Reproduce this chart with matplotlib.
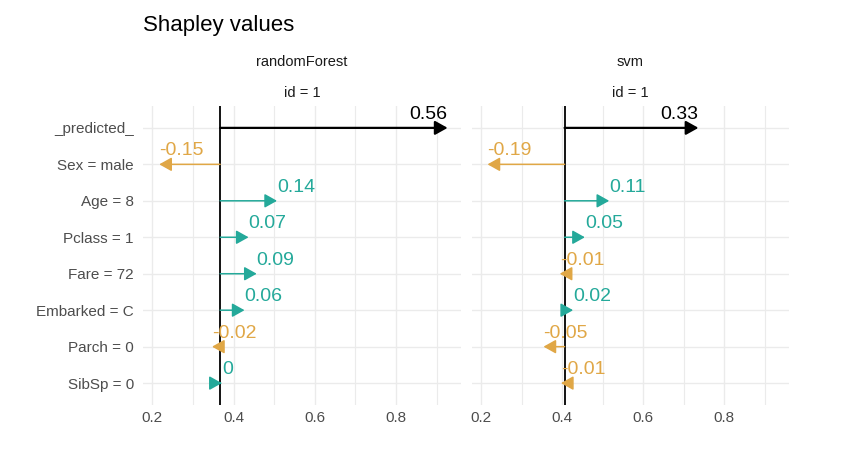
import matplotlib
matplotlib.use("Agg")
import matplotlib.pyplot as plt
from matplotlib.ticker import MultipleLocator, FixedLocator, FuncFormatter

plt.rcParams['font.family'] = ['Liberation Sans', 'DejaVu Sans']

# ---- data ----
features = ["_predicted_", "Sex = male", "Age = 8", "Pclass = 1", "Fare = 72",
            "Embarked = C", "Parch = 0", "SibSp = 0"]
models = ["randomForest", "svm"]
obs_id = 1
baselines = [0.367, 0.406]
rf_values = [0.56, -0.15, 0.14, 0.07, 0.09, 0.06, -0.02, 0.004]
svm_values = [0.33, -0.19, 0.11, 0.05, -0.012, 0.021, -0.052, -0.009]
values = [rf_values, svm_values]
x_ticks = [0.2, 0.4, 0.6, 0.8]

# ---- style ----
POS = "#24A99A"
NEG = "#E0A746"
PRED = "black"
GRID = "#EBEBEB"
TXT = "#4D4D4D"
XLIM = (0.177, 0.96)

W, H = 848, 474
fig = plt.figure(figsize=(W / 100, H / 100), dpi=100)
panel_px = [(143, 461), (471.7, 789.3)]
top_px, bot_px = 106, 405

axes = []
for k, (x0, x1) in enumerate(panel_px):
    ax = fig.add_axes([x0 / W, 1 - bot_px / H, (x1 - x0) / W, (bot_px - top_px) / H])
    axes.append(ax)
    ax.set_xlim(*XLIM)
    ax.set_ylim(len(features) - 0.4, -0.6)
    ax.xaxis.set_major_locator(FixedLocator(x_ticks))
    ax.xaxis.set_minor_locator(MultipleLocator(0.1))
    ax.xaxis.set_major_formatter(FuncFormatter(lambda v, p: f"{v:.1f}"))
    ax.set_yticks(range(len(features)))
    if k == 0:
        ax.set_yticklabels(features)
    else:
        ax.set_yticklabels([])
    ax.grid(which="major", color=GRID, lw=1.0, zorder=0)
    ax.grid(which="minor", axis="x", color=GRID, lw=0.8, zorder=0)
    ax.set_axisbelow(True)
    for s in ax.spines.values():
        s.set_visible(False)
    ax.tick_params(axis="both", which="both", length=0, labelsize=11, labelcolor=TXT)
    ax.tick_params(axis="y", pad=6.5)
    ax.tick_params(axis="x", pad=4.5)

    base = baselines[k]
    ax.axvline(base, color="black", lw=1.3, zorder=2)
    center = sum(XLIM) / 2
    for i, v in enumerate(values[k]):
        if i == 0:
            c, lw = PRED, 1.6
        else:
            c, lw = (POS if v >= 0 else NEG), 1.1
        tip = base + v
        ax.annotate("", xy=(tip, i), xytext=(base, i),
                    arrowprops=dict(arrowstyle="-|>,head_length=0.75,head_width=0.42",
                                    mutation_scale=10, color=c, lw=lw,
                                    shrinkA=0, shrinkB=0),
                    zorder=3)
        lab = f"{round(v, 2):g}"
        ax.annotate(lab, xy=(tip, i), xytext=(0, 6.5), textcoords="offset points",
                    ha="left" if tip < center else "right", va="baseline",
                    fontsize=14, color=c, zorder=4)

    cx = (x0 + x1) / 2 / W
    fig.text(cx, 1 - 65.7 / H, models[k], ha="center", va="baseline",
             fontsize=10.5, color="#1A1A1A")
    fig.text(cx, 1 - 96.7 / H, f"id = {obs_id}", ha="center", va="baseline",
             fontsize=10.5, color="#1A1A1A")

fig.text(143.3 / W, 1 - 30.7 / H, "Shapley values", ha="left", va="baseline",
         fontsize=16, color="black")

fig.savefig("out.png", dpi=100, facecolor="white")
